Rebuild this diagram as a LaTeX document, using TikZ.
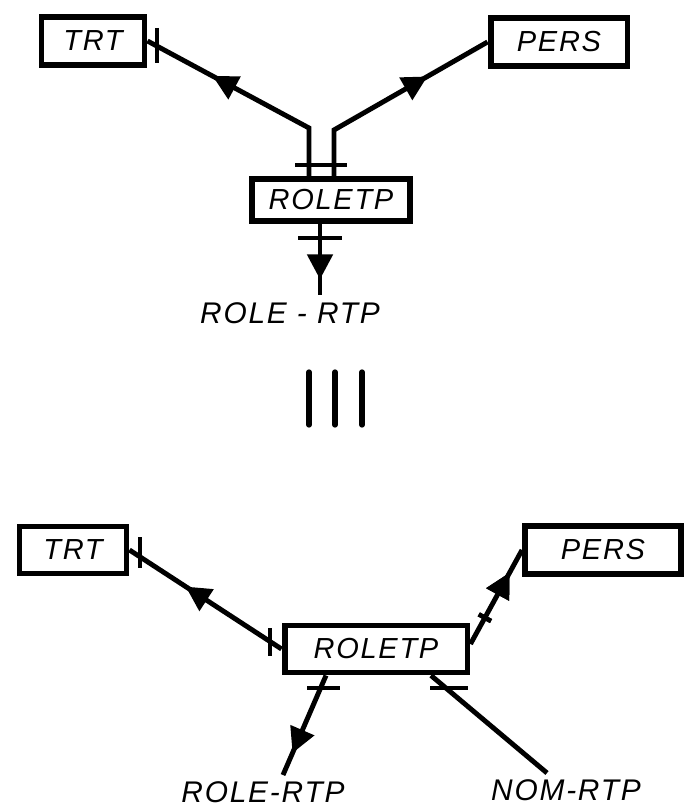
\documentclass[tikz,border=0pt]{standalone}
\usepackage{fontspec}
\setsansfont{Liberation Sans}[LetterSpace=6]
\usetikzlibrary{positioning, arrows.meta, decorations.markings}

\begin{document}
\begin{tikzpicture}[x=0.02cm, y=-0.02cm, entity/.style={ rectangle, draw, line width=3.4pt, inner sep=0pt, font=\sffamily\itshape\fontsize{16.5}{18}\selectfont }, link/.style={ line width=2.8pt }, bar/.style={ line width=2.6pt }, midarrow/.style={ postaction={decorate}, decoration={markings, mark=at position #1 with {\arrow{Triangle[length=5mm, width=5mm]}}} }, revarrow/.style={ postaction={decorate}, decoration={markings, mark=at position #1 with {\arrowreversed{Triangle[length=5mm, width=5mm]}}} }, attr/.style={ inner sep=0pt, font=\sffamily\itshape\fontsize{17}{19}\selectfont } ]
\useasboundingbox (0,0) rectangle (694,810);

% --- Schema superiore ---
\node[entity, minimum width=2.06cm, minimum height=0.96cm] (trtA) at (93,41) {TRT};

\node[entity, minimum width=2.74cm, minimum height=0.96cm] (persA) at (559,42) {PERS};

\node[entity, minimum width=3.16cm, minimum height=0.84cm] (roleA) at (331,200) {ROLETP};

\coordinate (kT) at (309,128);
\coordinate (kP) at (334,130);
\coordinate (rrA) at (320,295);

\node[attr] (rrAtxt) at (290,313) {ROLE - RTP};

\draw[link, revarrow=0.32] (trtA.east) -- (kT) -- (kT |- roleA.north); \draw[link, midarrow=0.69] (roleA.north -| kP) -- (kP) -- (persA.west); \draw[link, midarrow=0.78] (roleA.south -| rrA) -- (rrA);

% --- Sbarre ---
\draw[bar] (157,28) -- (157,63); \draw[bar] (295,165) -- (347,165); \draw[bar] (298,238) -- (342,238);

% --- Equivalenza ---
\foreach \x in {309,335,362} \draw[line width=3pt, line cap=round] (\x,372) -- (\x,425);

% --- Schema inferiore ---
\node[entity, minimum width=2.14cm, minimum height=0.94cm] (trtB) at (73,550) {TRT};

\node[entity, minimum width=3.12cm, minimum height=0.96cm] (persB) at (603,550) {PERS};

\node[entity, minimum width=3.66cm, minimum height=0.94cm] (roleB) at (376,649) {ROLETP};

\coordinate (rrB) at (283,775);
\coordinate (nmB) at (547,773);

\node[attr] (rrBtxt) at (263,792) {ROLE-RTP};

\node[attr] (nmBtxt) at (566,790) {NOM-RTP};

\draw[link, revarrow=0.37] (trtB.east) -- (roleB.west); \draw[link, midarrow=0.76, postaction={decorate}, decoration={markings, mark=at position 0.28 with {\draw[bar] (0,-7) -- (0,7);}}] ([yshift=0.1cm]roleB.east) -- (persB.west); \draw[link, midarrow=0.78] ([xshift=-1cm]roleB.south) -- (rrB); \draw[link] ([xshift=1.1cm]roleB.south) -- (nmB);

% --- Sbarre ---
\draw[bar] (140,537) -- (140,568); \draw[bar] (270,628) -- (270,656); \draw[bar] (307,688) -- (340,688); \draw[bar] (430,688) -- (468,688);
\end{tikzpicture}
\end{document}
